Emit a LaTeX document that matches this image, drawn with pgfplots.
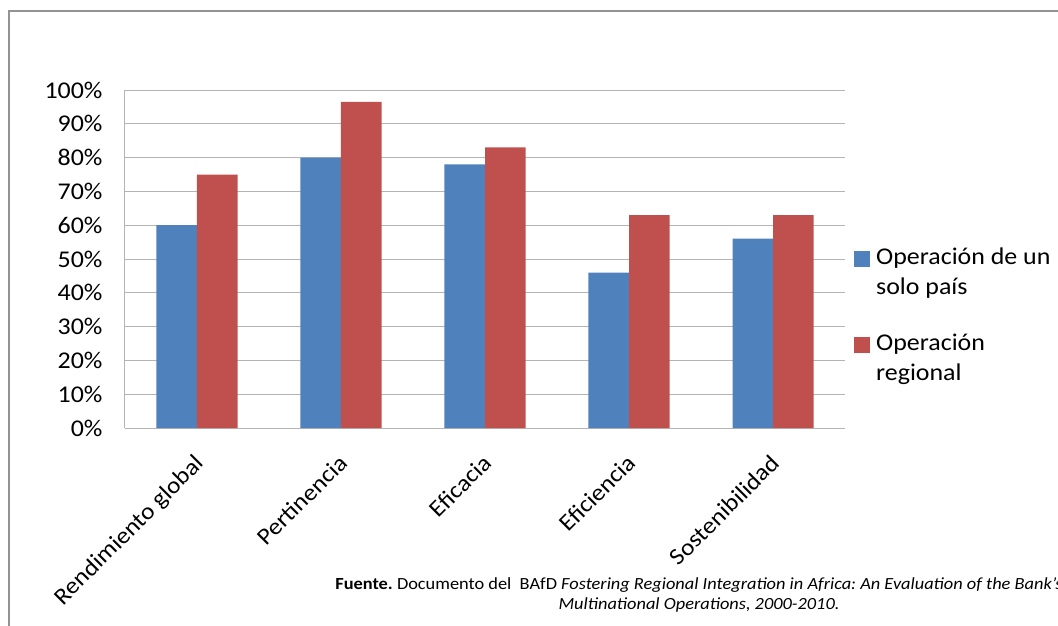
\documentclass[border=0pt]{standalone}
\usepackage{fontspec}
\setmainfont{Carlito}[FakeStretch=1.08]
\usepackage{pgfplots}
\pgfplotsset{compat=1.18}
\definecolor{azul}{HTML}{4F81BD}
\definecolor{rojo}{HTML}{C0504D}
\definecolor{rejilla}{HTML}{B4B4B4}
\frenchspacing

\begin{document}
\begin{tikzpicture}[x=1pt,y=1pt]
\useasboundingbox (0,0) rectangle (1058,625);
\clip (0,0) rectangle (1058,625);
% marco del grafico
\draw[gray!85, line width=2pt] (9,-5) -- (9,614) -- (1065,614);
\begin{axis}[
    at={(125pt,197pt)}, anchor=south west,
    width=720pt, height=338pt, scale only axis,
    ymin=0, ymax=100,
    ytick={0,10,...,100},
    yticklabels={0\%,10\%,20\%,30\%,40\%,50\%,60\%,70\%,80\%,90\%,100\%},
    xmin=-0.5, xmax=4.5,
    xtick=data,
    xticklabels={Rendimiento global,Pertinencia,Eficacia,Eficiencia,Sostenibilidad},
    x tick label style={font=\fontsize{23.5}{27}\selectfont, rotate=45,
        anchor=north east, inner sep=0pt, xshift=-20pt, yshift=-15pt},
    y tick label style={font=\fontsize{24}{28}\selectfont, xshift=-19pt},
    major tick length=0pt,
    axis lines*=left,
    axis line style={rejilla, line width=1pt},
    ymajorgrids,
    grid style={rejilla, line width=1pt},
    ybar=0pt, bar width=40.5pt,
    clip=false,
    legend style={at={(1,0.545)}, xshift=6pt, anchor=north west, draw=none, fill=none,
        font=\fontsize{24}{30}\selectfont, row sep=34pt,
        cells={anchor=west, align=left}},
    cuadro/.style={legend image code/.code={\fill[##1] (0pt,5pt) rectangle (16pt,21pt); \path (20pt,0pt);}},
]
\addplot[fill=azul, draw=none, cuadro] coordinates {(0,60) (1,80) (2,78) (3,46) (4,56)};
\addplot[fill=rojo, draw=none, cuadro] coordinates {(0,75) (1,96.5) (2,83) (3,63) (4,63)};
\legend{{Operación de un\\solo país},{Operación\\regional}}
\end{axis}
\node[align=center, font=\fontsize{17}{20}\selectfont] at (699,30)
  {\textbf{Fuente.} Documento del\ \ BAfD \textit{Fostering Regional Integration in Africa: An Evaluation of the Bank’s}\\
   \textit{Multinational Operations, 2000-2010.}};
\end{tikzpicture}
\end{document}
